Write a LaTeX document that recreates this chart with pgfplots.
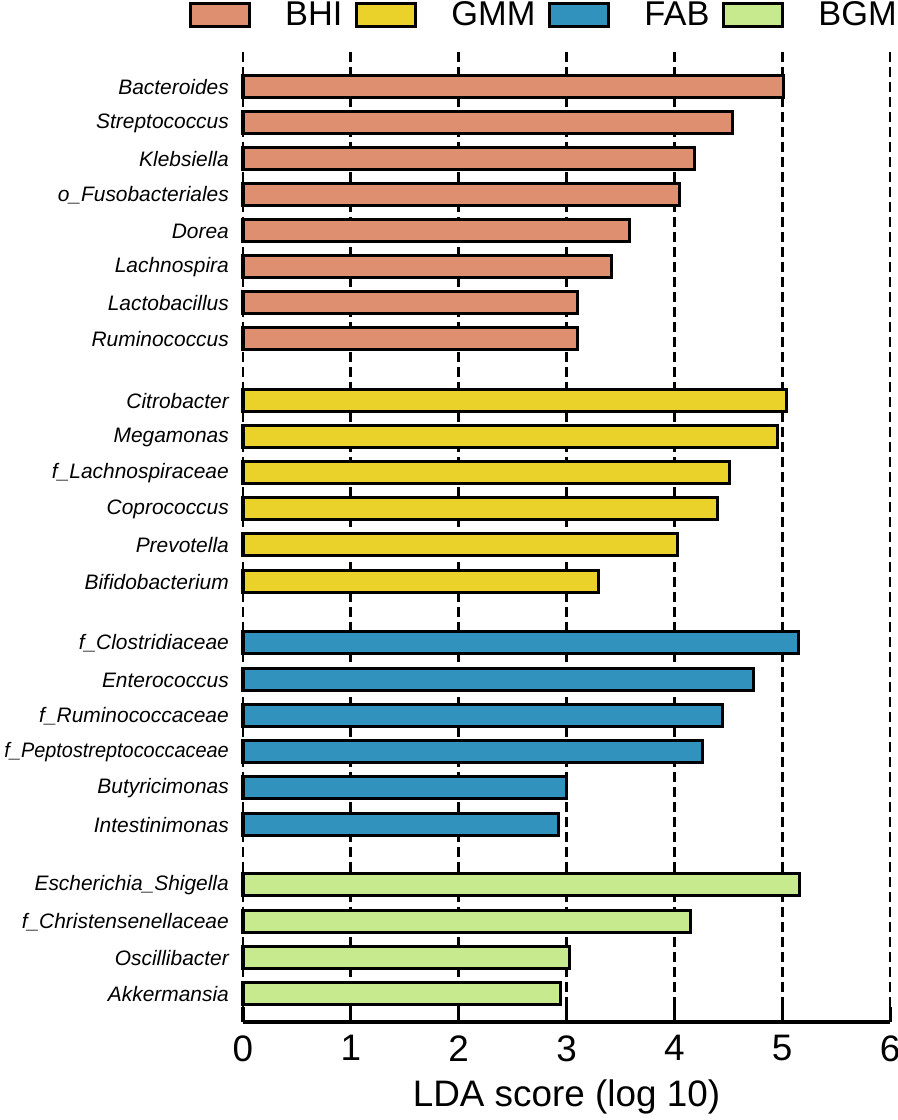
\documentclass[border=0pt]{standalone}
\usepackage{fontspec}
\setmainfont{Liberation Sans}
\usepackage{pgfplots}
\pgfplotsset{compat=1.18}
\definecolor{cBHI}{HTML}{DE8F6F}
\definecolor{cGMM}{HTML}{EAD22A}
\definecolor{cFAB}{HTML}{3092BD}
\definecolor{cBGM}{HTML}{C8EA8E}
\begin{document}
\begin{tikzpicture}
\useasboundingbox (0,0) rectangle (898bp,1120bp);
\begin{axis}[
  at={(243bp,98bp)}, anchor=south west,
  scale only axis, width=647bp, height=972bp,
  xmin=0, xmax=6, ymin=-1022, ymax=-50,
  clip=false,
  xbar, bar width=22,
  axis x line*=bottom, axis y line*=left,
  y axis line style={draw=none},
  x axis line style={line width=3bp, black, -},
  xtick={0,1,2,3,4,5,6}, xtick align=inside, major tick length=15bp,
  x tick style={line width=3bp, black},
  xmajorgrids, grid style={black, line width=2.8bp, dash pattern=on 10bp off 5bp},
  ytick={-87,-123,-159,-195,-231,-267,-303,-339,-401,-437,-473,-509,-545,-582,-643,-680,-716,-752,-788,-825,-885,-922,-958,-994},
  yticklabels={Bacteroides,Streptococcus,Klebsiella,o\_Fusobacteriales,Dorea,Lachnospira,Lactobacillus,Ruminococcus,Citrobacter,Megamonas,f\_Lachnospiraceae,Coprococcus,Prevotella,Bifidobacterium,f\_Clostridiaceae,Enterococcus,f\_Ruminococcaceae,{\scalebox{0.95}[1]{f\_Peptostreptococcaceae}},Butyricimonas,Intestinimonas,Escherichia\_Shigella,f\_Christensenellaceae,Oscillibacter,Akkermansia},
  y tick style={draw=none},
  yticklabel style={font=\fontsize{21}{24}\selectfont\itshape, inner xsep=0pt, xshift=1bp},
  xticklabel style={font=\fontsize{37}{40}\selectfont, yshift=-10bp},
  /pgf/number format/assume math mode=true,
  xlabel={LDA score (log 10)},
  xlabel style={font=\fontsize{37}{40}\selectfont, at={(axis description cs:0.5,-0.077)}, anchor=center},
  legend columns=-1,
  legend style={at={(axis description cs:-0.0835,1.0365)}, anchor=west, draw=none, fill=none, inner sep=0pt,
    font=\fontsize{34.5}{38}\selectfont, nodes={inner xsep=0pt, inner ysep=0pt},
    /tikz/every odd column/.append style={column sep=34bp},
    /tikz/every even column/.append style={column sep=13bp}},
  legend image code/.code={\draw[#1] (0bp,-11.5bp) rectangle (59bp,11.5bp);},
]
\addplot[fill=cBHI, draw=black, line width=3bp, bar shift=0pt] coordinates {(5.01,-87) (4.54,-123) (4.19,-159) (4.05,-195) (3.58,-231) (3.42,-267) (3.10,-303) (3.10,-339)};
\addlegendentry{BHI}
\addplot[fill=cGMM, draw=black, line width=3bp, bar shift=0pt] coordinates {(5.04,-401) (4.96,-437) (4.51,-473) (4.40,-509) (4.03,-545) (3.30,-582)};
\addlegendentry{GMM}
\addplot[fill=cFAB, draw=black, line width=3bp, bar shift=0pt] coordinates {(5.155,-643) (4.73,-680) (4.45,-716) (4.26,-752) (3.00,-788) (2.93,-825)};
\addlegendentry{FAB}
\addplot[fill=cBGM, draw=black, line width=3bp, bar shift=0pt] coordinates {(5.16,-885) (4.15,-922) (3.03,-958) (2.94,-994)};
\addlegendentry{BGM}
\end{axis}
\end{tikzpicture}
\end{document}
